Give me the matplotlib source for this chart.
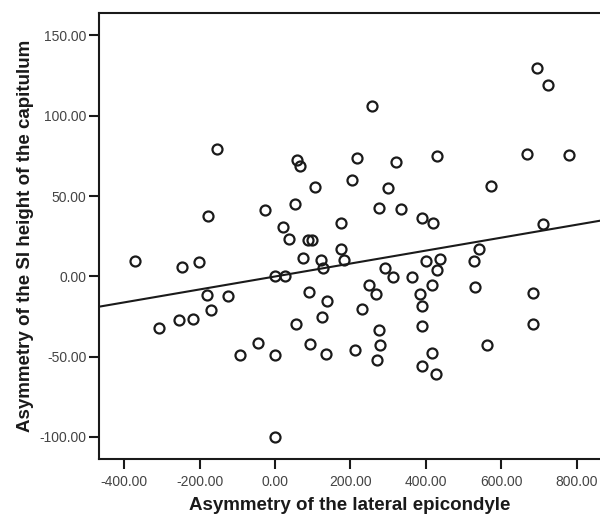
import numpy as np
import matplotlib
matplotlib.use("Agg")
import matplotlib.pyplot as plt

plt.rcParams['font.family'] = ['Liberation Sans', 'DejaVu Sans']

# asymmetry of lateral epicondyle (x) vs asymmetry of SI height of capitulum (y)
epicondyle = [-371, -308.5, -255.5, -247, -217.5, -202, -180, -178, -170, -154,
              -125.5, -93.7, -46, -25.7, 0, 0, 0, 20.4, 26.5, 36.3,
              54, 55.7, 57.5, 66, 75, 88.5, 90, 93.7, 97.3, 105,
              122, 124, 126.5, 134.5, 137, 174, 175, 183, 203.4, 211.4,
              218.4, 231.6, 250, 256.5, 267, 271.5, 275, 276.7, 277.6, 292.6,
              299.7, 312, 320, 334, 362.6, 385.5, 389, 389, 391, 391,
              399.7, 416.4, 416.4, 419, 428, 429, 429.7, 437.7, 527, 530.5,
              542, 563, 572, 667.6, 683.5, 683.5, 695, 711, 725, 779]
capitulum = [9.5, -32.4, -27.2, 5.8, -26.6, 9, -11.4, 37.5, -20.7, 79,
             -12, -49.2, -41.5, 41, 0, -49, -100, 31, 0, 23.2,
             45, -29.9, 72.2, 69, 11.2, 22.4, -10.1, -41.9, 22.4, 55.6,
             10.4, -25.3, 5.4, -48.2, -15.4, 17.2, 33.2, 10, 60.2, -45.7,
             73.9, -20.1, -5.6, 106.3, -11.2, -51.9, 42.3, -33.4, -42.6, 5.2,
             55, -0.2, 71.2, 41.9, -0.2, -11, 36.3, -18.5, -31.1, -55.8,
             9.5, -5.2, -47.5, 33.4, -60.6, 4.2, 74.7, 10.6, 9.5, -6.4,
             17.2, -43, 56, 76.2, -10.6, -29.9, 130, 32.6, 119.4, 75.5]

x_ticks = [-400, -200, 0, 200, 400, 600, 800]
y_ticks = [-100, -50, 0, 50, 100, 150]

x = np.array(epicondyle)
y = np.array(capitulum)

fig = plt.figure(figsize=(6, 5.19), dpi=100)
ax = fig.add_axes([0.165, 0.115, 0.835, 0.86])

ax.plot(x, y, 'o', mfc='none', mec='#1a1a1a', ms=7.2, mew=1.6, zorder=3)

# linear fit line
slope, icept = np.polyfit(x, y, 1)
xl = np.array([-467, 862])
ax.plot(xl, icept + slope * xl, color='#1a1a1a', lw=1.5, zorder=2)

ax.set_xlim(-467, 862)
ax.set_ylim(-114, 164)
ax.set_xticks(x_ticks)
ax.set_yticks(y_ticks)
ax.set_xticklabels(['%.2f' % v for v in x_ticks])
ax.set_yticklabels(['%.2f' % v for v in y_ticks])
ax.tick_params(direction='out', length=7, width=1.5, pad=2, labelsize=10,
               labelcolor='#444444', color='#1a1a1a')
ax.tick_params(axis='x', pad=4)
for side in ['left', 'bottom', 'top']:
    ax.spines[side].set_linewidth(1.5)
    ax.spines[side].set_color('#1a1a1a')
ax.spines['right'].set_visible(False)

ax.set_xlabel('Asymmetry of the lateral epicondyle', fontsize=13.5,
              fontweight='bold', color='#1a1a1a', labelpad=6)
ax.set_ylabel('Asymmetry of the SI height of the capitulum', fontsize=13.5,
              fontweight='bold', color='#1a1a1a', labelpad=4)

fig.savefig('out.png', dpi=100)
